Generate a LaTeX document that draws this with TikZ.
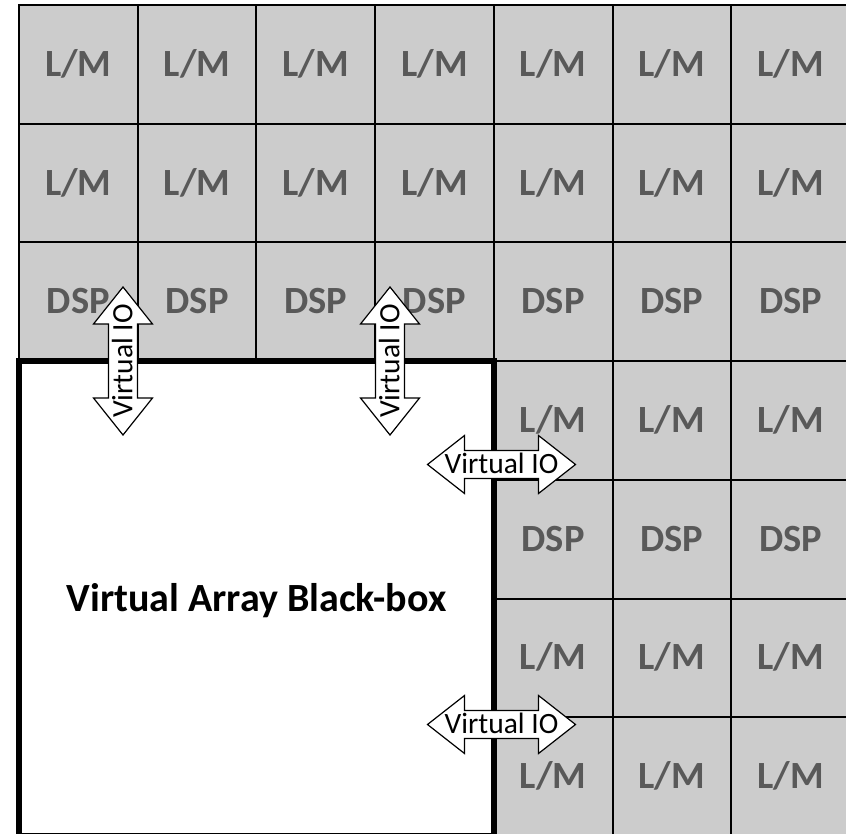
\documentclass[tikz,border=0pt]{standalone}
\usepackage{fontspec}
\setmainfont{Carlito}
\definecolor{cellgray}{HTML}{CCCCCC}
\definecolor{celltext}{HTML}{595959}
\newcommand\LMlab{L/M}
\begin{document}
\begin{tikzpicture}[x=1pt,y=1pt,
  cell/.style={draw=black,line width=2pt,fill=cellgray,minimum size=118.7pt,inner sep=0pt,
    text=celltext,font=\fontsize{38.5}{40}\selectfont\bfseries,text height=24pt,text depth=0pt},
  blackbox/.style={draw=black,line width=6pt,fill=white},
  boxlabel/.style={font=\fontsize{40}{42}\selectfont\bfseries,text=black,inner sep=0pt,text height=25.3pt,text depth=0pt},
  ioarrow/.style={draw=black,line width=1.2pt,fill=white,line join=miter},
  iotext/.style={font=\fontsize{29.5}{31}\selectfont,text=black,inner sep=0pt,text height=18.6pt,text depth=0pt}]
\useasboundingbox (0,0) rectangle (846,-834);
\clip (0,0) rectangle (846,-834);
% upper rows, full width
\foreach \r/\lab in {0/\LMlab,1/\LMlab,2/DSP}{
  \foreach \c in {0,...,6}{
    \node[cell] (cell-\r-\c) at (19+118.7*\c+59.35,-5-118.7*\r-59.35) {\lab};
  }
}
% lower rows, right part
\foreach \r/\lab in {3/\LMlab,4/DSP,5/\LMlab,6/\LMlab}{
  \foreach \c in {4,5,6}{
    \node[cell] (cell-\r-\c) at (19+118.7*\c+59.35,-5-118.7*\r-59.35) {\lab};
  }
}
% black box
\node[blackbox,minimum width=475pt,minimum height=475pt,inner sep=0pt] (box) at (256.5,-598.5) {};
\node[boxlabel] (boxlab) at (256.5,-598.5) {Virtual Array Black-box};
% vertical virtual IO arrows
\foreach \n/\x in {v1/123,v2/390}{
  \begin{scope}[shift={(\x,-361)},rotate=90]
    \draw[ioarrow] (-74,0) -- (-37,29.5) -- (-37,14.5) -- (37,14.5) -- (37,29.5) -- (74,0)
      -- (37,-29.5) -- (37,-14.5) -- (-37,-14.5) -- (-37,-29.5) -- cycle;
    \node[iotext,rotate=90] (io-\n) at (0,0) {Virtual IO};
  \end{scope}
}
% horizontal virtual IO arrows
\foreach \n/\y in {h1/-464.5,h2/-724.5}{
  \begin{scope}[shift={(501.5,\y)}]
    \draw[ioarrow] (-74,0) -- (-37,29) -- (-37,14) -- (37,14) -- (37,29) -- (74,0)
      -- (37,-29) -- (37,-14) -- (-37,-14) -- (-37,-29) -- cycle;
    \node[iotext] (io-\n) at (0,0) {Virtual IO};
  \end{scope}
}
\end{tikzpicture}
\end{document}
